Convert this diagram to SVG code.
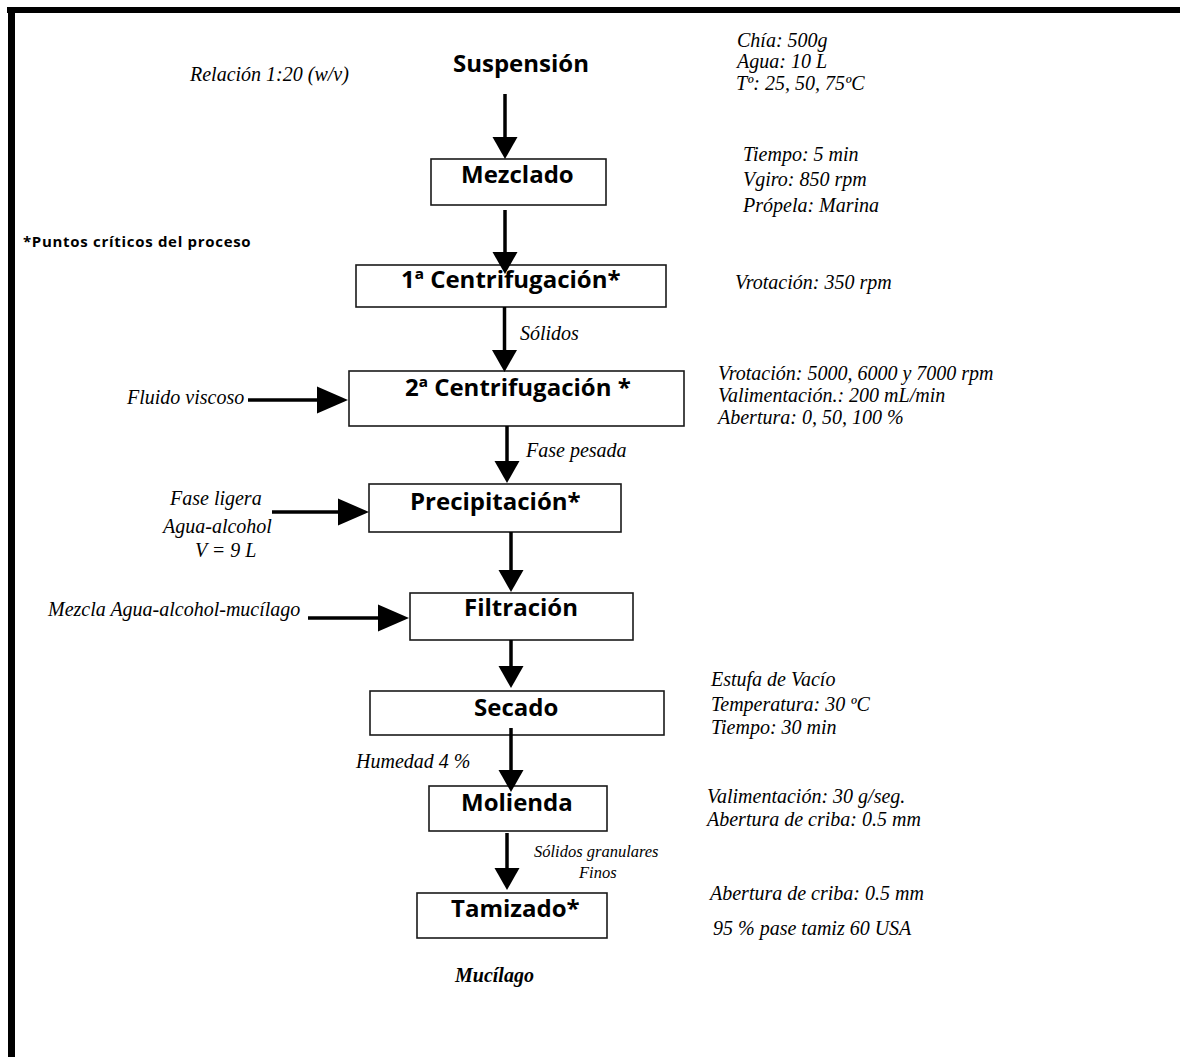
<svg xmlns="http://www.w3.org/2000/svg" width="1180" height="1057" viewBox="0 0 1180 1057">
<style>
.frame{fill:#000}
.box{fill:#fff;stroke:#1a1a1a;stroke-width:1.6}
.t{font-family:"Open Sans","Liberation Sans",sans-serif;font-weight:bold;font-size:24px;fill:#000}
.n{font-family:"Open Sans","Liberation Sans",sans-serif;font-weight:bold;font-size:15px;letter-spacing:0.7px;fill:#000}
.i{font-family:"Liberation Serif","Times New Roman",serif;font-style:italic;font-size:20px;fill:#000}
.s{font-family:"Liberation Serif","Times New Roman",serif;font-style:italic;font-size:16.5px;fill:#000}
.bi{font-family:"Liberation Serif","Times New Roman",serif;font-style:italic;font-weight:bold;font-size:20px;fill:#000}
.c{stroke:#000;stroke-width:3.5;fill:none}
.cv{marker-end:url(#arrV)}
.ch{marker-end:url(#arrH)}
</style>
<defs>
<marker id="arrV" markerUnits="userSpaceOnUse" markerWidth="22" markerHeight="25" refX="0" refY="12.5" orient="auto" overflow="visible">
<path d="M0,0 L22,12.5 L0,25 Z" fill="#000"/>
</marker>
<marker id="arrH" markerUnits="userSpaceOnUse" markerWidth="31" markerHeight="27" refX="0" refY="13.5" orient="auto" overflow="visible">
<path d="M0,0 L31,13.5 L0,27 Z" fill="#000"/>
</marker>
</defs>
<rect width="1180" height="1057" fill="#fff"/>
<g id="frame">
<rect class="frame" x="7" y="7" width="1173" height="6"/>
<rect class="frame" x="8" y="7" width="7" height="1050"/>
</g>
<g id="n-suspension"><text class="t" x="453" y="72">Suspensión</text></g>
<g id="n-mezclado"><rect class="box" x="431" y="159" width="175" height="46"/><text class="t" x="461" y="183">Mezclado</text></g>
<g id="n-centrif1"><rect class="box" x="356" y="265" width="310" height="42"/><text class="t" x="401" y="288">1ª Centrifugación*</text></g>
<g id="n-centrif2"><rect class="box" x="349" y="371" width="335" height="55"/><text class="t" x="405" y="396">2ª Centrifugación *</text></g>
<g id="n-precip"><rect class="box" x="369" y="484" width="252" height="48"/><text class="t" x="410" y="510">Precipitación*</text></g>
<g id="n-filtr"><rect class="box" x="410" y="593" width="223" height="47"/><text class="t" x="464" y="616">Filtración</text></g>
<g id="n-secado"><rect class="box" x="370" y="691" width="294" height="44"/><text class="t" x="474" y="716">Secado</text></g>
<g id="n-molienda"><rect class="box" x="429" y="786" width="178" height="45"/><text class="t" x="461" y="811">Molienda</text></g>
<g id="n-tamizado"><rect class="box" x="417" y="893" width="190" height="45"/><text class="t" x="451" y="917">Tamizado*</text></g>
<g id="n-mucilago"><text class="bi" x="455" y="982">Mucílago</text></g>
<g id="connectors">
<line class="c cv" x1="505" y1="94" x2="505" y2="137"/>
<line class="c cv" x1="505" y1="210" x2="505" y2="252"/>
<line class="c cv" x1="504.5" y1="307" x2="504.5" y2="350"/>
<line class="c cv" x1="507" y1="426" x2="507" y2="461"/>
<line class="c cv" x1="511" y1="532" x2="511" y2="570"/>
<line class="c cv" x1="511" y1="640" x2="511" y2="666"/>
<line class="c cv" x1="511" y1="728" x2="511" y2="770"/>
<line class="c cv" x1="507" y1="833" x2="507" y2="868"/>
<line class="c ch" x1="248" y1="400" x2="317" y2="400"/>
<line class="c ch" x1="272" y1="512" x2="338" y2="512"/>
<line class="c ch" x1="308" y1="618" x2="378" y2="618"/>
</g>
<g id="labels">
<text class="i" x="190" y="81">Relación 1:20 (w/v)</text>
<text class="n" x="23" y="247">*Puntos críticos del proceso</text>
<text class="i" x="737" y="47">Chía: 500g</text>
<text class="i" x="737" y="68">Agua: 10 L</text>
<text class="i" x="736" y="90">Tº: 25, 50, 75ºC</text>
<text class="i" x="743" y="161">Tiempo: 5 min</text>
<text class="i" x="743" y="186">Vgiro: 850 rpm</text>
<text class="i" x="743" y="212">Própela: Marina</text>
<text class="i" x="735" y="289">Vrotación: 350 rpm</text>
<text class="i" x="520" y="340">Sólidos</text>
<text class="i" x="718" y="380">Vrotación: 5000, 6000 y 7000 rpm</text>
<text class="i" x="718" y="402">Valimentación.: 200 mL/min</text>
<text class="i" x="718" y="424">Abertura: 0, 50, 100 %</text>
<text class="i" x="127" y="404">Fluido viscoso</text>
<text class="i" x="526" y="457">Fase pesada</text>
<text class="i" x="170" y="505">Fase ligera</text>
<text class="i" x="163" y="533">Agua-alcohol</text>
<text class="i" x="195" y="557">V = 9 L</text>
<text class="i" x="48" y="616">Mezcla Agua-alcohol-mucílago</text>
<text class="i" x="711" y="686">Estufa de Vacío</text>
<text class="i" x="711" y="711">Temperatura: 30 ºC</text>
<text class="i" x="711" y="734">Tiempo: 30 min</text>
<text class="i" x="356" y="768">Humedad 4 %</text>
<text class="i" x="707" y="803">Valimentación: 30 g/seg.</text>
<text class="i" x="707" y="826">Abertura de criba: 0.5 mm</text>
<text class="s" x="534" y="857">Sólidos granulares</text>
<text class="s" x="579" y="878">Finos</text>
<text class="i" x="710" y="900">Abertura de criba: 0.5 mm</text>
<text class="i" x="713" y="935">95 % pase tamiz 60 USA</text>
</g>
</svg>
